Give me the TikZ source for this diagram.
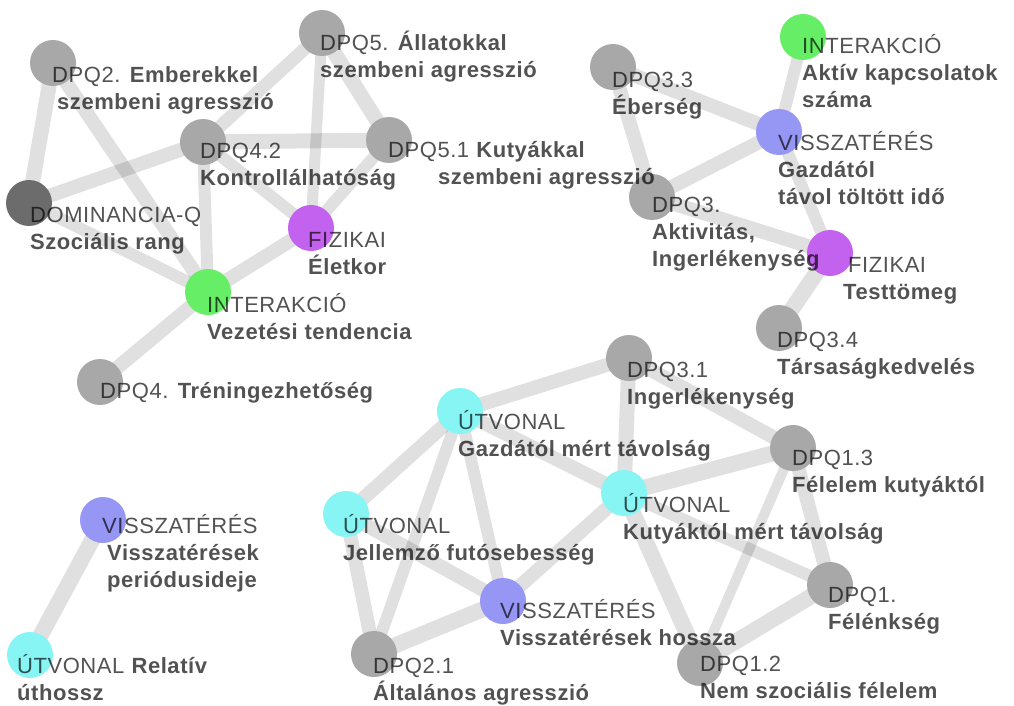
\documentclass[tikz,border=0pt]{standalone}
\usepackage{fontspec}
\setmainfont[LetterSpace=2.5]{Liberation Sans}
\usetikzlibrary{backgrounds}
\definecolor{cgray}{RGB}{168,168,168}
\definecolor{cdark}{RGB}{108,108,108}
\definecolor{cgreen}{RGB}{102,238,102}
\definecolor{cpurple}{RGB}{196,98,240}
\definecolor{cblue}{RGB}{150,150,245}
\definecolor{ccyan}{RGB}{136,245,245}
\newcommand{\lstr}{\rule{0pt}{20pt}}
\tikzset{
  dot/.style={circle, minimum size=46pt, inner sep=0pt, draw=none},
  gr/.style={dot, fill=cgray},
  dk/.style={dot, fill=cdark},
  gn/.style={dot, fill=cgreen},
  pu/.style={dot, fill=cpurple},
  bl/.style={dot, fill=cblue},
  cy/.style={dot, fill=ccyan},
  lab/.style={anchor=north west, inner sep=0pt, align=left, text=black, text opacity=0.68,
              font=\fontsize{22}{27}\selectfont},
  link/.style={draw=black, draw opacity=0.12, line width=#1},
  link/.default=14pt
}
\begin{document}
\begin{tikzpicture}[x=1pt,y=-1pt]
\useasboundingbox (0,0) rectangle (1014,706);
% circles
\node[gr] (q2) at (53,63) {};
\node[gr] (q5) at (322,33) {};
\node[gr] (q42) at (203,142) {};
\node[gr] (q51) at (389,140) {};
\node[dk] (dom) at (29,203) {};
\node[pu] (fiz1) at (311,228) {};
\node[gn] (int1) at (208,292) {};
\node[gr] (q4) at (100,382) {};
\node[gr] (q33) at (613,67) {};
\node[gn] (int2) at (803,37) {};
\node[bl] (vis1) at (779,132) {};
\node[gr] (q3) at (652,197) {};
\node[pu] (fiz2) at (830,253) {};
\node[gr] (q34) at (779,328) {};
\node[gr] (q31) at (629,358) {};
\node[cy] (ut1) at (460,411) {};
\node[cy] (ut2) at (624,493) {};
\node[cy] (ut3) at (346,514) {};
\node[bl] (vis2) at (503,601) {};
\node[gr] (q21) at (374,654) {};
\node[gr] (q13) at (793,448) {};
\node[gr] (q1) at (830,585) {};
\node[gr] (q12) at (700,663) {};
\node[bl] (vis3) at (103,520) {};
\node[cy] (ut4) at (30,655) {};
% edges
\begin{pgfonlayer}{background}
\fill[white] (0,0) rectangle (1014,706);
\draw[link=15pt] (q2.center) -- (dom.center);
\draw[link] (q2.center) -- (int1.center);
\draw[link] (q42.center) -- (dom.center);
\draw[link=12pt] (dom.center) -- (int1.center);
\draw[link=12pt] (q42.center) -- (int1.center);
\draw[link=13pt] (q42.center) -- (q5.center);
\draw[link=15pt] (q42.center) -- (q51.center);
\draw[link=12pt] (q42.center) -- (fiz1.center);
\draw[link=11pt] (q5.center) -- (fiz1.center);
\draw[link=15pt] (q5.center) -- (q51.center);
\draw[link=12pt] (q51.center) -- (fiz1.center);
\draw[link] (fiz1.center) -- (int1.center);
\draw[link] (int1.center) -- (q4.center);
\draw[link] (q33.center) -- (vis1.center);
\draw[link] (q33.center) -- (q3.center);
\draw[link=12pt] (int2.center) -- (vis1.center);
\draw[link] (vis1.center) -- (q3.center);
\draw[link=12pt] (vis1.center) -- (fiz2.center);
\draw[link] (q3.center) -- (fiz2.center);
\draw[link=16pt] (fiz2.center) -- (q34.center);
\draw[link] (q31.center) -- (ut1.center);
\draw[link=15pt] (q31.center) -- (ut2.center);
\draw[link] (q31.center) -- (q13.center);
\draw[link] (ut1.center) -- (ut2.center);
\draw[link] (ut1.center) -- (ut3.center);
\draw[link=12pt] (ut1.center) -- (vis2.center);
\draw[link=12pt] (ut1.center) -- (q21.center);
\draw[link] (ut3.center) -- (vis2.center);
\draw[link] (ut3.center) -- (q21.center);
\draw[link=16pt] (vis2.center) -- (q21.center);
\draw[link] (vis2.center) -- (ut2.center);
\draw[link=16pt] (ut2.center) -- (q13.center);
\draw[link=12pt] (ut2.center) -- (q1.center);
\draw[link=16pt] (ut2.center) -- (q12.center);
\draw[link] (q13.center) -- (q1.center);
\draw[link=10pt] (q13.center) -- (q12.center);
\draw[link=16pt] (q1.center) -- (q12.center);
\draw[link=16pt] (vis3.center) -- (ut4.center);
\end{pgfonlayer}
% labels
\node[lab] (lq2) at (52,62) {\lstr DPQ2. \textbf{Emberekkel}\\\hspace*{5pt}\textbf{szembeni agresszió}};
\node[lab] (lq5) at (320,30) {\lstr DPQ5. \textbf{Állatokkal}\\\textbf{szembeni agresszió}};
\node[lab] (lq42) at (200,138) {\lstr DPQ4.2\\\textbf{Kontrollálhatóság}};
\node[lab] (lq51) at (388,137) {\lstr DPQ5.1 \textbf{Kutyákkal}\\\hspace*{50pt}\textbf{szembeni agresszió}};
\node[lab] (ldom) at (30,202) {\lstr DOMINANCIA-Q\\\textbf{Szociális rang}};
\node[lab] (lfiz1) at (308,227) {\lstr FIZIKAI\\\textbf{Életkor}};
\node[lab] (lint1) at (207,292) {\lstr INTERAKCIÓ\\\textbf{Vezetési tendencia}};
\node[lab] (lq4) at (100,378) {\lstr DPQ4. \textbf{Tréningezhetőség}};
\node[lab] (lq33) at (612,67) {\lstr DPQ3.3\\\textbf{Éberség}};
\node[lab] (lint2) at (802,33) {\lstr INTERAKCIÓ\\\textbf{Aktív kapcsolatok}\\\textbf{száma}};
\node[lab] (lvis1) at (778,130) {\lstr VISSZATÉRÉS\\\textbf{Gazdától}\\\textbf{távol töltött idő}};
\node[lab] (lq3) at (652,192) {\lstr DPQ3.\\\textbf{Aktivitás,}\\\textbf{Ingerlékenység}};
\node[lab] (lfiz2) at (843,252) {\lstr \hspace*{5pt}FIZIKAI\\\textbf{Testtömeg}};
\node[lab] (lq34) at (777,327) {\lstr DPQ3.4\\\textbf{Társaságkedvelés}};
\node[lab] (lq31) at (627,357) {\lstr DPQ3.1\\\textbf{Ingerlékenység}};
\node[lab] (lut1) at (458,409) {\lstr ÚTVONAL\\\textbf{Gazdától mért távolság}};
\node[lab] (lut2) at (623,492) {\lstr ÚTVONAL\\\textbf{Kutyáktól mért távolság}};
\node[lab] (lut3) at (343,513) {\lstr ÚTVONAL\\\textbf{Jellemző futósebesség}};
\node[lab] (lvis2) at (500,598) {\lstr VISSZATÉRÉS\\\textbf{Visszatérések hossza}};
\node[lab] (lq21) at (373,653) {\lstr DPQ2.1\\\textbf{Általános agresszió}};
\node[lab] (lq13) at (792,445) {\lstr DPQ1.3\\\textbf{Félelem kutyáktól}};
\node[lab] (lq1) at (828,582) {\lstr DPQ1.\\\textbf{Félénkség}};
\node[lab] (lq12) at (700,651) {\lstr DPQ1.2\\\textbf{Nem szociális félelem}};
\node[lab] (lvis3) at (102,513) {\lstr VISSZATÉRÉS\\\hspace*{5pt}\textbf{Visszatérések}\\\hspace*{5pt}\textbf{periódusideje}};
\node[lab] (lut4) at (17,653) {\lstr ÚTVONAL \textbf{Relatív}\\\textbf{úthossz}};
\end{tikzpicture}
\end{document}
